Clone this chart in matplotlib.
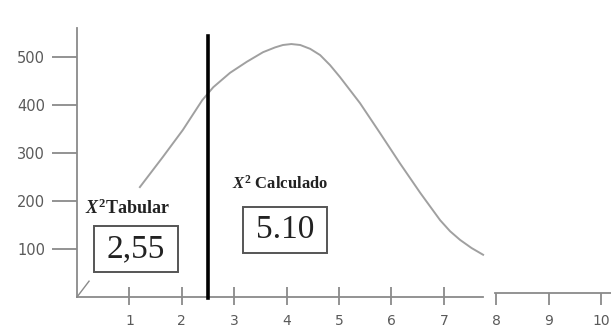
import matplotlib.pyplot as plt
from matplotlib.patches import Rectangle

plt.rcParams['mathtext.fontset'] = 'custom'
plt.rcParams['mathtext.it'] = 'Liberation Serif:italic:bold'
plt.rcParams['mathtext.rm'] = 'Liberation Serif:bold'

# curve
curve_x = [1.20, 1.64, 2.02, 2.39, 2.60, 2.92, 3.24, 3.55, 3.78, 3.93, 4.09, 4.26, 4.45, 4.64,
           4.83, 5.02, 5.40, 5.78, 6.16, 6.55, 6.93, 7.12, 7.31, 7.53, 7.75]
curve_y = [229, 292, 348, 410, 437, 467, 490, 510, 520, 525, 527, 525, 517, 504,
           483, 458, 404, 342, 279, 217, 160, 137, 119, 102, 88]

x_ticks = [1, 2, 3, 4, 5, 6, 7, 8, 9, 10]
y_ticks = [100, 200, 300, 400, 500]
x_crit = 2.5
tab_value = '2,55'
calc_value = '5.10'

gray = '#8a8a8a'
lab = '#5a5a5a'

fig = plt.figure(figsize=(6.11, 3.31), dpi=100)
ax = fig.add_axes([77/611, 34/331, 534/611, 269/331])
ax.set_xlim(0, 534/52.4)
ax.set_ylim(0, 269/0.48)

for s in ['top', 'right', 'bottom']:
    ax.spines[s].set_visible(False)
ax.spines['left'].set_color(gray)
ax.spines['left'].set_linewidth(1.3)

ax.set_yticks(y_ticks)
ax.tick_params(axis='y', direction='out', length=18, width=1.3, color=gray,
               pad=5, labelsize=10.5, labelcolor=lab)
ax.set_xticks(x_ticks)
ax.tick_params(axis='x', length=0, pad=12.5, labelsize=10, labelcolor=lab)

# broken x axis
ax.plot([0, 7.75], [0, 0], color=gray, lw=1.3, clip_on=False)
ax.plot([7.98, 10.3], [8, 8], color=gray, lw=1.3, clip_on=False)
ax.vlines(x_ticks[:7], -17, 21, color=gray, lw=1.3, clip_on=False)
ax.vlines(x_ticks[7:], -17, 8, color=gray, lw=1.3, clip_on=False)
ax.plot([0, 0.23], [0, 33], color=gray, lw=1, clip_on=False)

ax.plot(curve_x, curve_y, color='#a0a0a0', lw=1.4)
ax.plot([x_crit, x_crit], [-3, 544], color='black', lw=2.6, clip_on=False)

ax.text(0.15, 185, r'$X^2$Tabular', fontsize=13, family='Liberation Serif',
        weight='bold', color='#222222', va='center')
ax.text(2.96, 235, r'$X^2$ Calculado', fontsize=12, family='Liberation Serif',
        weight='bold', color='#222222', va='center')

ax.add_patch(Rectangle((0.324, 52), 1.603, 96, fill=False, ec='#555555', lw=1.4))
ax.add_patch(Rectangle((3.168, 92), 1.603, 96, fill=False, ec='#555555', lw=1.4))
ax.text(1.126, 100, tab_value, fontsize=24, family='Liberation Serif',
        ha='center', va='center', color='#222222')
ax.text(3.97, 140, calc_value, fontsize=24, family='Liberation Serif',
        ha='center', va='center', color='#222222')

fig.savefig('out.png', dpi=100)
